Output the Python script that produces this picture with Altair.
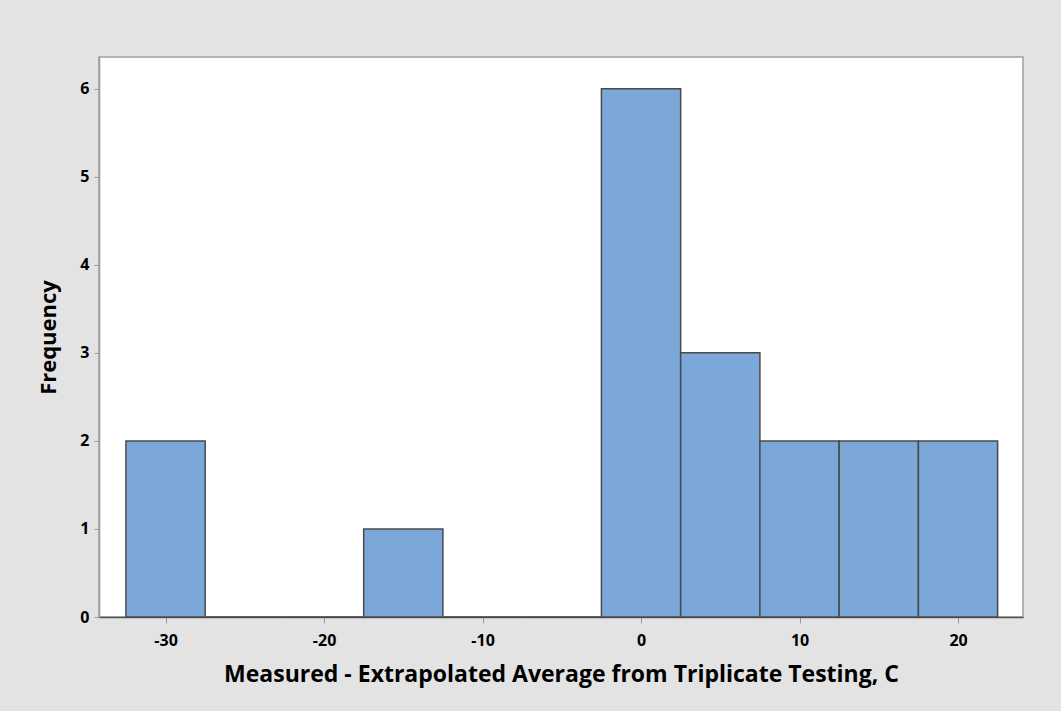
import altair as alt
import pandas as pd

# Histogram bins (width 5) and their frequencies
bin_centers = [-30, -25, -20, -15, -10, -5, 0, 5, 10, 15, 20]
frequencies = [2, 0, 0, 1, 0, 0, 6, 3, 2, 2, 2]
bin_width = 5

x_ticks = [-30, -20, -10, 0, 10, 20]
y_ticks = [0, 1, 2, 3, 4, 5, 6]

df = pd.DataFrame({
    "center": bin_centers,
    "count": frequencies,
})
df["start"] = df["center"] - bin_width / 2
df["end"] = df["center"] + bin_width / 2

FONT = "Open Sans"

bars = alt.Chart(df).mark_rect(
    fill="#7ba7d9",
    stroke="#4a4a4a",
    strokeWidth=1.5,
).encode(
    x=alt.X(
        "start:Q",
        scale=alt.Scale(domain=[-34.2, 24.1], nice=False, zero=False),
        axis=alt.Axis(
            values=x_ticks,
            labelExpr="toString(datum.value)",
            title="Measured -  Extrapolated Average from Triplicate Testing, C",
            grid=False,
            tickSize=6,
            tickColor="#9a9a9a",
            domainColor="#555555",
            domainWidth=1.5,
            labelPadding=9,
            labelFontSize=16,
            labelFontWeight="bold",
            labelColor="#000000",
            titleFontSize=23,
            titleFontWeight="bold",
            titleColor="#000000",
            titlePadding=15,
        ),
    ),
    x2="end:Q",
    y=alt.Y(
        "count:Q",
        scale=alt.Scale(domain=[0, 6.36], nice=False),
        axis=alt.Axis(
            values=y_ticks,
            title="Frequency",
            grid=False,
            tickSize=5,
            tickColor="#9a9a9a",
            domainColor="#9a9a9a",
            domainWidth=1.5,
            labelPadding=5,
            labelFontSize=16,
            labelFontWeight="bold",
            labelColor="#000000",
            titleFontSize=22,
            titleFontWeight="bold",
            titleColor="#000000",
            titlePadding=19,
        ),
    ),
    y2=alt.datum(0),
)

chart = bars.properties(
    width=924,
    height=560,
    background="#e3e3e3",
    padding={"left": 99, "top": 57, "right": 38, "bottom": 94},
    autosize=alt.AutoSizeParams(type="none"),
).configure(
    font=FONT,
    view=alt.ViewConfig(fill="#ffffff", stroke="#a0a0a0", strokeWidth=1.5),
)

chart.save("out.html", embed_options={"renderer": "svg", "actions": False})
